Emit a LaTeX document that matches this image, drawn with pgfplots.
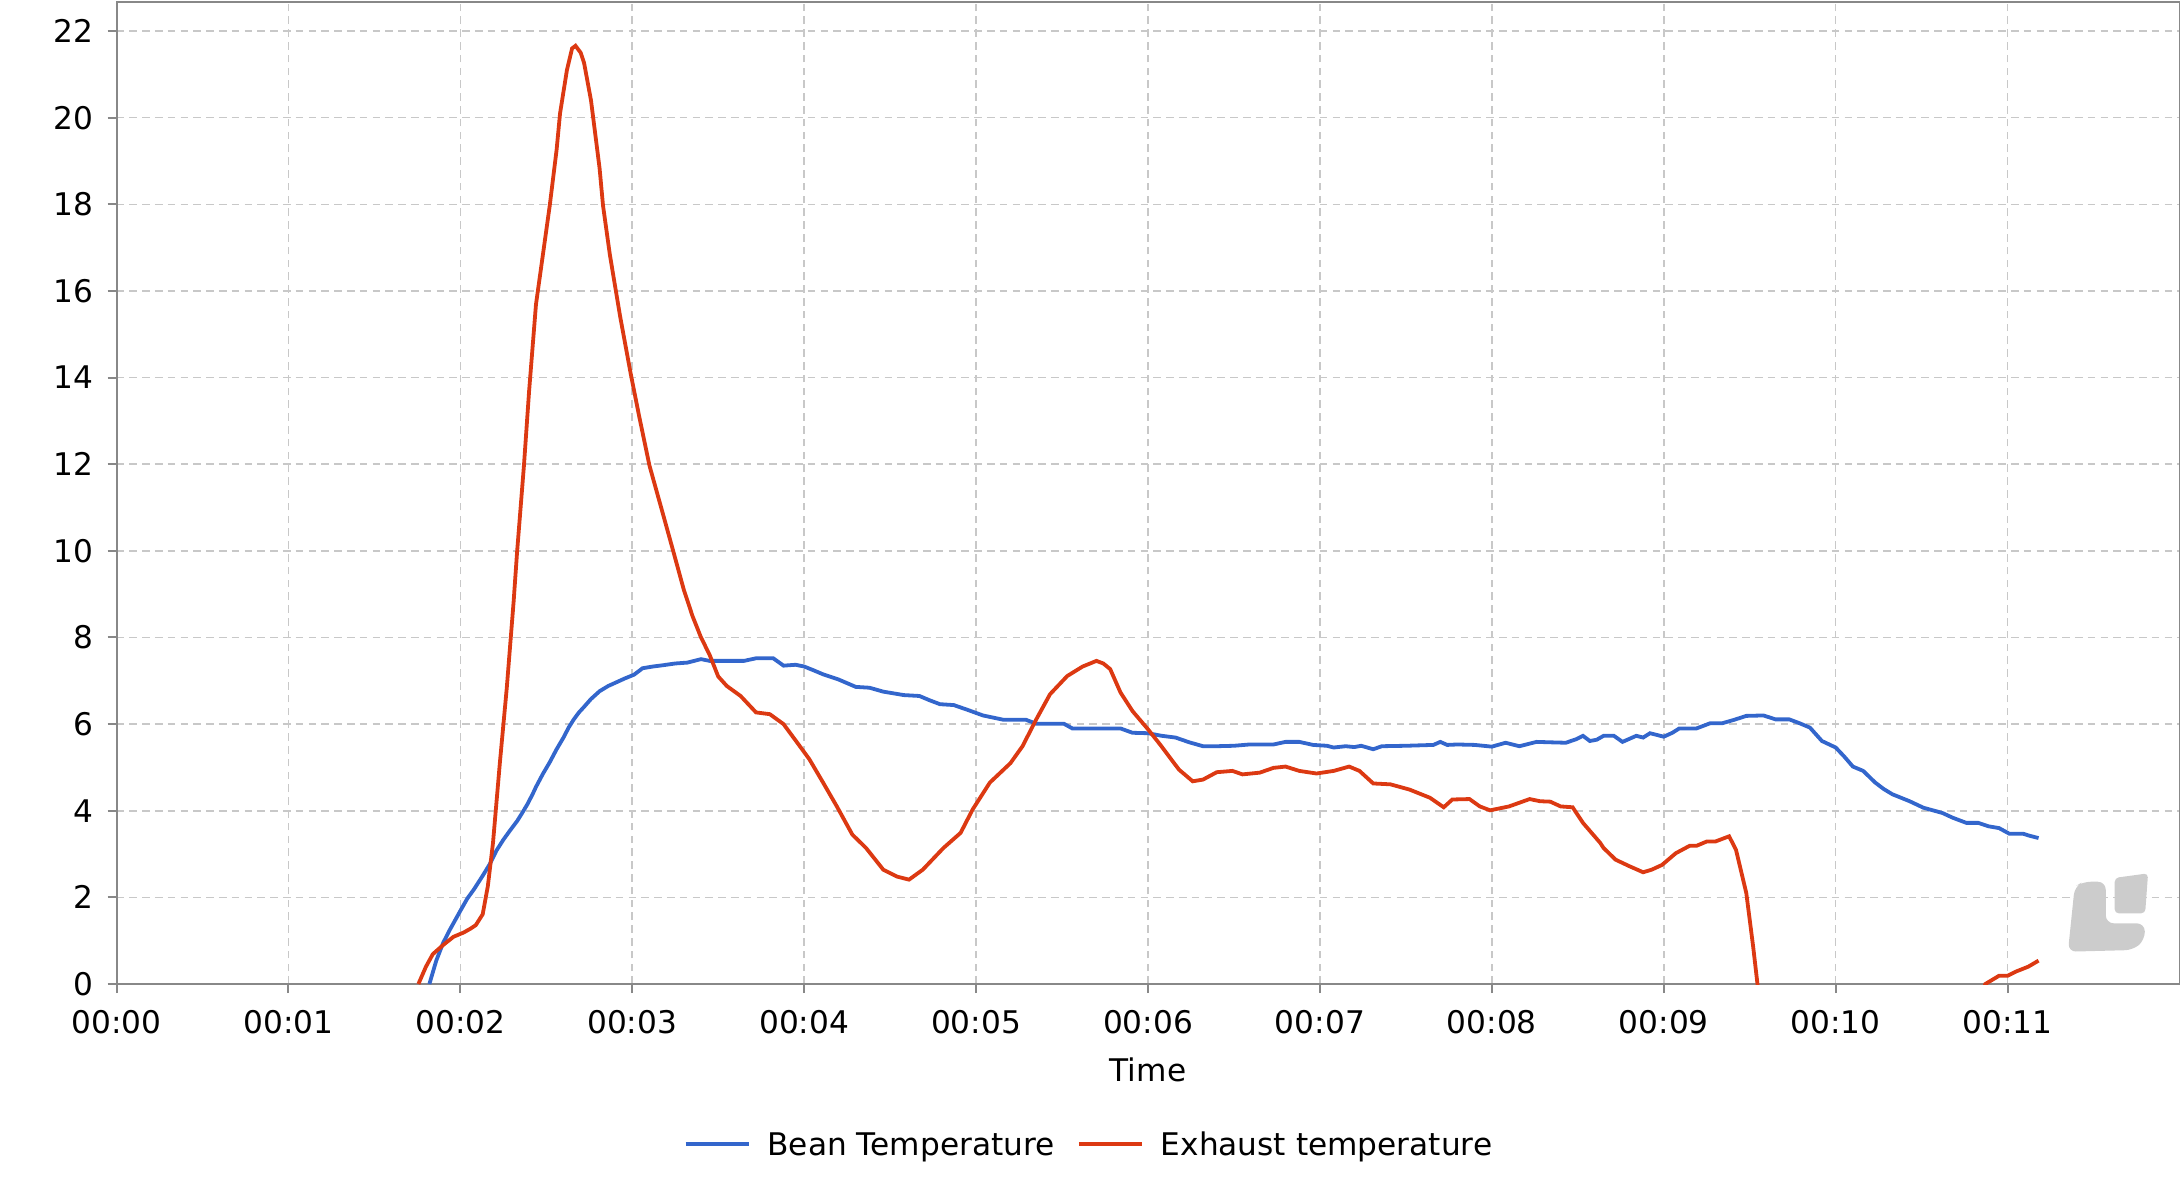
\documentclass[border=0pt]{standalone}
\usepackage{fontspec}
\setmainfont{DejaVu Sans}
\usepackage{pgfplots}
\pgfplotsset{compat=1.18}
\definecolor{beanblue}{RGB}{51,102,204}
\definecolor{exhred}{RGB}{220,57,18}
\definecolor{axgray}{RGB}{136,136,136}
\definecolor{gridgray}{RGB}{200,200,200}
\definecolor{logogray}{RGB}{204,204,204}
\begin{document}
\begin{tikzpicture}
\useasboundingbox (-29.125pt,-49.25pt) rectangle (515.875pt,246pt);
\begin{axis}[
  scale only axis,
  width=515.75pt, height=245.6pt,
  xmin=0, xmax=12, ymin=0, ymax=22.68,
  xtick={0,1,2,3,4,5,6,7,8,9,10,11},
  xticklabels={00:00,00:01,00:02,00:03,00:04,00:05,00:06,00:07,00:08,00:09,00:10,00:11},
  ytick={0,2,4,6,8,10,12,14,16,18,20,22},
  xtick pos=left, ytick pos=left,
  tick align=outside,
  major tick length=2.25pt,
  every tick/.style={axgray, line width=0.5pt},
  axis line style={axgray, line width=0.5pt},
  grid=major,
  major grid style={gridgray, line width=0.4pt, dash pattern=on 1.9pt off 1.3pt},
  /pgf/number format/assume math mode=true,
  tick label style={font=\fontsize{7.8}{9}\selectfont, inner sep=0pt},
  yticklabel style={anchor=east, xshift=-3.4pt},
  xticklabel style={anchor=north, yshift=-4.25pt},
  xlabel={Time},
  xlabel style={font=\fontsize{7.8}{9}\selectfont, inner sep=0pt, anchor=center, at={(axis description cs:0.5,0)}, yshift=-21.5pt},
  legend columns=2,
  legend style={font=\fontsize{7.8}{9}\selectfont, draw=none, fill=none, at={(axis description cs:0.4709,0)}, anchor=center, yshift=-40pt, inner sep=0pt,
    /tikz/every odd column/.append style={column sep=4.2pt},
    /tikz/every even column/.append style={column sep=5.6pt},
    nodes={inner sep=0pt, text depth=0pt}},
  legend image code/.code={\draw[#1] (0pt,0pt) -- (15.8pt,0pt);},
  legend cell align=left,
]
\fill[logogray, rounded corners=2pt] (axis cs:11.351,0.746) -- (axis cs:11.39,2.247) -- (axis cs:11.439,2.362) -- (axis cs:11.571,2.362) -- (axis cs:11.571,1.401) -- (axis cs:11.798,1.401) -- (axis cs:11.798,1.016) -- (axis cs:11.73,0.785) -- cycle;
\fill[logogray, rounded corners=1pt] (axis cs:11.623,1.632) -- (axis cs:11.623,2.45) -- (axis cs:11.817,2.555) -- (axis cs:11.80,1.632) -- cycle;
\addplot[beanblue, line width=0.95pt] coordinates {
(1.82,0) (1.86,0.54) (1.90,0.95) (1.94,1.26) (2.00,1.69) (2.04,1.97) (2.08,2.19) (2.13,2.5) (2.17,2.76) (2.21,3.08) (2.25,3.33) (2.29,3.55) (2.33,3.76) (2.36,3.95) (2.39,4.15) (2.42,4.38) (2.44,4.55) (2.48,4.85) (2.52,5.12) (2.56,5.42) (2.60,5.69) (2.63,5.92) (2.66,6.11) (2.69,6.27) (2.72,6.4) (2.76,6.58) (2.81,6.76) (2.86,6.88) (2.91,6.97) (2.96,7.06) (3.01,7.14) (3.06,7.29) (3.12,7.33) (3.18,7.36) (3.25,7.40) (3.32,7.42) (3.40,7.50) (3.45,7.46) (3.55,7.46) (3.65,7.46) (3.72,7.52) (3.82,7.52) (3.88,7.35) (3.95,7.37) (4.00,7.33) (4.05,7.25) (4.11,7.15) (4.20,7.03) (4.30,6.86) (4.38,6.84) (4.46,6.75) (4.58,6.67) (4.67,6.65) (4.73,6.55) (4.79,6.46) (4.87,6.44) (4.95,6.33) (5.04,6.20) (5.10,6.15) (5.16,6.10) (5.29,6.10) (5.35,6.01) (5.51,6.01) (5.56,5.90) (5.84,5.90) (5.91,5.80) (6.00,5.79) (6.08,5.73) (6.16,5.69) (6.24,5.58) (6.32,5.49) (6.40,5.49) (6.50,5.50) (6.59,5.53) (6.73,5.53) (6.80,5.59) (6.88,5.59) (6.96,5.52) (7.04,5.50) (7.08,5.46) (7.15,5.49) (7.20,5.47) (7.24,5.50) (7.31,5.42) (7.36,5.49) (7.50,5.50) (7.66,5.52) (7.70,5.59) (7.74,5.52) (7.80,5.53) (7.90,5.52) (8.00,5.48) (8.08,5.57) (8.16,5.49) (8.26,5.59) (8.34,5.58) (8.43,5.57) (8.49,5.65) (8.53,5.73) (8.57,5.61) (8.61,5.64) (8.65,5.73) (8.71,5.73) (8.76,5.59) (8.84,5.73) (8.88,5.69) (8.92,5.79) (8.96,5.75) (9.00,5.71) (9.05,5.80) (9.09,5.90) (9.19,5.90) (9.27,6.02) (9.34,6.02) (9.41,6.10) (9.48,6.19) (9.58,6.20) (9.65,6.11) (9.73,6.11) (9.79,6.02) (9.85,5.92) (9.92,5.61) (10.00,5.46) (10.05,5.25) (10.10,5.02) (10.16,4.92) (10.23,4.65) (10.28,4.50) (10.33,4.38) (10.43,4.22) (10.51,4.07) (10.62,3.95) (10.68,3.84) (10.76,3.72) (10.83,3.72) (10.89,3.64) (10.95,3.60) (11.01,3.47) (11.09,3.47) (11.13,3.42) (11.18,3.37)
};
\addlegendentry{Bean Temperature}
\addplot[exhred, line width=0.95pt] coordinates {
(1.756,0) (1.80,0.4) (1.84,0.69) (1.90,0.9) (1.96,1.09) (2.02,1.19) (2.06,1.28) (2.09,1.36) (2.13,1.61) (2.16,2.26) (2.19,3.26) (2.23,5.11) (2.27,6.83) (2.31,8.83) (2.33,9.97) (2.37,11.97) (2.40,13.69) (2.42,14.69) (2.44,15.69) (2.48,16.83) (2.52,17.97) (2.56,19.26) (2.58,20.1) (2.62,21.1) (2.65,21.6) (2.67,21.66) (2.70,21.5) (2.72,21.26) (2.76,20.4) (2.81,18.83) (2.83,17.97) (2.87,16.83) (2.93,15.4) (2.99,14.11) (3.04,13.11) (3.10,11.97) (3.18,10.83) (3.24,9.97) (3.30,9.1) (3.35,8.5) (3.40,8.0) (3.45,7.6) (3.50,7.1) (3.55,6.88) (3.63,6.65) (3.72,6.27) (3.80,6.23) (3.88,6.0) (3.96,5.57) (4.03,5.19) (4.11,4.65) (4.19,4.10) (4.28,3.45) (4.36,3.14) (4.46,2.64) (4.54,2.48) (4.61,2.41) (4.69,2.64) (4.81,3.14) (4.91,3.49) (4.98,4.03) (5.08,4.65) (5.20,5.10) (5.27,5.49) (5.35,6.11) (5.43,6.69) (5.53,7.11) (5.62,7.33) (5.70,7.46) (5.74,7.40) (5.78,7.27) (5.84,6.73) (5.91,6.30) (6.00,5.88) (6.07,5.53) (6.18,4.95) (6.26,4.68) (6.32,4.72) (6.40,4.89) (6.49,4.92) (6.55,4.84) (6.65,4.88) (6.73,4.99) (6.80,5.02) (6.88,4.92) (6.98,4.86) (7.08,4.92) (7.17,5.02) (7.23,4.92) (7.31,4.63) (7.41,4.61) (7.52,4.49) (7.64,4.30) (7.72,4.08) (7.77,4.26) (7.87,4.27) (7.93,4.10) (7.99,4.01) (8.10,4.10) (8.22,4.27) (8.28,4.22) (8.34,4.21) (8.40,4.10) (8.47,4.08) (8.53,3.72) (8.63,3.26) (8.65,3.14) (8.72,2.87) (8.80,2.72) (8.88,2.58) (8.93,2.64) (8.99,2.75) (9.07,3.02) (9.15,3.19) (9.19,3.19) (9.25,3.29) (9.30,3.29) (9.38,3.41) (9.42,3.10) (9.48,2.10) (9.52,0.86) (9.545,0) (9.58,-1) (10.80,-1) (10.87,0) (10.95,0.19) (11.00,0.19) (11.05,0.29) (11.12,0.40) (11.18,0.54)
};
\addlegendentry{Exhaust temperature}
\end{axis}
\end{tikzpicture}
\end{document}
